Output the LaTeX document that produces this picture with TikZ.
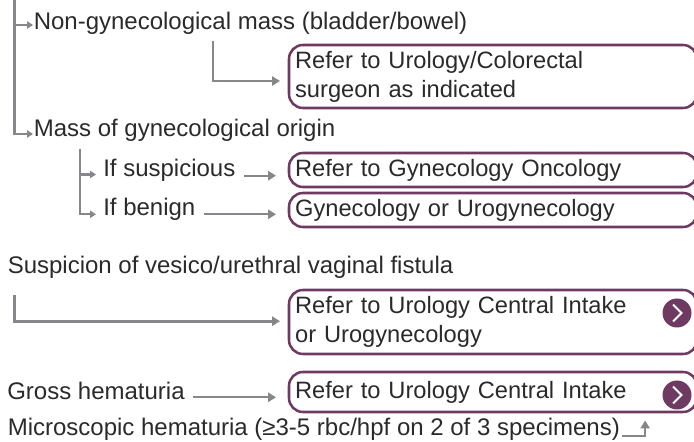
\documentclass[tikz,border=0pt]{standalone}
\usepackage{fontspec}
\setmainfont{Liberation Sans}
\usetikzlibrary{arrows.meta}
\definecolor{plum}{HTML}{6E3A62}
\definecolor{conn}{HTML}{85878A}
\definecolor{ink}{HTML}{2A2A2C}
\tikzset{
  lbl/.style={anchor=base west,inner sep=0pt,text=ink,font=\fontsize{18pt}{21.75pt}\selectfont},
  refbox/.style={draw=plum,line width=1.9pt,rounded corners=10.5pt,anchor=north west,inner sep=0pt,outer sep=0pt,
    minimum width=306pt,text width=306pt,text=ink,font=\fontsize{17.75pt}{21.75pt}\selectfont,align=left},
  link/.style={draw=conn,line width=2pt,-{Triangle[length=6pt,width=7pt]}},
  thinlink/.style={draw=conn,line width=1.6pt,-{Triangle[length=6pt,width=7pt]}},
  smalllink/.style={draw=conn,line width=1.7pt,-{Triangle[length=4.5pt,width=5.5pt]}},
  go/.style={circle,fill=plum,minimum size=21.75pt,inner sep=0pt},
  chev/.style={draw=white,line width=1.5pt}
}
\begin{document}
\begin{tikzpicture}[x=0.75pt,y=-0.75pt]
\useasboundingbox (0,0) rectangle (694,442);
\clip (0,0) rectangle (694,442);
% boxes
\node[refbox,minimum height=47.25pt] (b1) at (289,45) {\hspace*{4.6pt}Refer to Urology/Colorectal\\\hspace*{4.6pt}surgeon as indicated};
\node[refbox,minimum height=25.5pt] (b2) at (289,153) {\hspace*{4.6pt}Refer to Gynecology Oncology};
\node[refbox,minimum height=25.5pt] (b3) at (289,193) {\hspace*{4.6pt}Gynecology or Urogynecology};
\node[refbox,minimum height=48pt] (b4) at (289,290) {\hspace*{4.6pt}Refer to Urology Central Intake\\\hspace*{4.6pt}or Urogynecology};
\node[refbox,minimum height=30pt] (b5) at (289,372) {\hspace*{4.6pt}Refer to Urology Central Intake};
% labels
\node[lbl] (nongyn) at (33.5,30) {Non-gynecological mass (bladder/bowel)};
\node[lbl] (gyn) at (33.5,137) {Mass of gynecological origin};
\node[lbl] (susp) at (103,177) {If suspicious};
\node[lbl] (ben) at (103,216) {If benign};
\node[lbl] (fist) at (7.5,274) {Suspicion of vesico/urethral vaginal fistula};
\node[lbl] (gross) at (7,400) {Gross hematuria};
\node[lbl] (micro) at (7.5,436) {Microscopic hematuria (≥3-5 rbc/hpf on 2 of 3 specimens)};
% free ends
\coordinate (top) at (14.5,0);
\coordinate (j1) at (14.5,25);
\coordinate (s1) at (213,41);
\coordinate (s2) at (80.3,149);
\coordinate (j2) at (80.3,174.5);
\coordinate (s3) at (14.3,295);
% connectors
\draw[link,-] (top) -- (14.5,134) -- (22,134);
\draw[smalllink] (j1) -- (33,25);
\draw[smalllink] (14.5,134) -- (33,134);
\draw[link] (s1) |- ([shift={(-9,4.5)}]b1.west);
\draw[smalllink] (s2) |- (96,214.3);
\draw[smalllink] (j2) -- (96,174.5);
\draw[thinlink] ([shift={(8,-1.3)}]susp.base east) -- ([shift={(-13,-1.3)}]b2.west |- susp.base);
\draw[thinlink] ([shift={(8,-1.7)}]ben.base east) -- ([shift={(-13,-1.7)}]b3.west |- ben.base);
\draw[link] (s3) |- ([shift={(-9,-0.8)}]b4.west);
\draw[thinlink] ([shift={(8,-2.7)}]gross.base east) -- ([shift={(-13,-2.7)}]b5.west |- gross.base);
\draw[thinlink] ([shift={(2,0)}]micro.base east) -| ([shift={(25,-15.5)}]micro.base east);
% go buttons
\node[go] (g1) at (677,313) {};
\node[go] (g2) at (677,395) {};
\draw[chev] ([shift={(-4,-8.5)}]g1.center) -- ([shift={(4.5,0)}]g1.center) -- ([shift={(-4,8.5)}]g1.center);
\draw[chev] ([shift={(-4,-8.5)}]g2.center) -- ([shift={(4.5,0)}]g2.center) -- ([shift={(-4,8.5)}]g2.center);
\end{tikzpicture}
\end{document}
